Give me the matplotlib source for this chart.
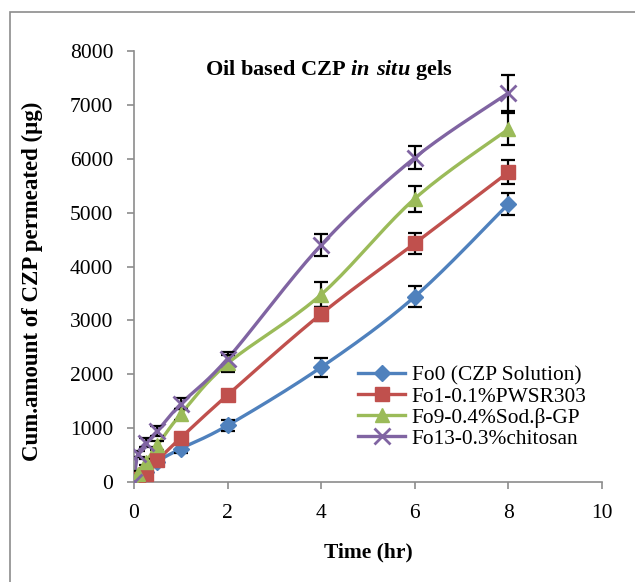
import numpy as np
import matplotlib
matplotlib.use("Agg")
import matplotlib.pyplot as plt
from matplotlib.patches import Rectangle

plt.rcParams['font.family'] = ['Liberation Serif', 'DejaVu Serif']
plt.rcParams['mathtext.fontset'] = 'custom'
plt.rcParams['mathtext.rm'] = 'Liberation Serif:bold'
plt.rcParams['mathtext.bfit'] = 'Liberation Serif:italic:bold'

# data
time = [0, 0.083, 0.25, 0.5, 1, 2, 4, 6, 8]
labels = ["Fo0 (CZP Solution)", "Fo1-0.1%PWSR303", "Fo9-0.4%Sod.β-GP", "Fo13-0.3%chitosan"]
fo0 = [0, 60, 180, 380, 620, 1050, 2130, 3440, 5160]
fo0_err = [0, 30, 50, 60, 80, 110, 180, 190, 200]
fo1 = [0, 60, 150, 400, 820, 1615, 3120, 4430, 5750]
fo1_err = [0, 30, 40, 60, 80, 100, 130, 200, 220]
fo9 = [0, 150, 370, 680, 1260, 2200, 3480, 5260, 6550]
fo9_err = [0, 50, 60, 80, 100, 150, 240, 240, 300]
fo13 = [0, 520, 730, 950, 1450, 2290, 4400, 6020, 7220]
fo13_err = [0, 60, 80, 90, 100, 130, 200, 210, 340]

colors = ['#4F81BD', '#C0504D', '#9BBB59', '#8064A2']
markers = ['D', 's', '^', 'x']
msizes = [8, 10, 10, 11]


def smooth(x, y, n=20):
    # catmull-rom curve through the points, like excel's smoothed line
    x = np.asarray(x, float)
    y = np.asarray(y, float)
    px = np.concatenate([[x[0]], x, [x[-1]]])
    py = np.concatenate([[y[0]], y, [y[-1]]])
    xs, ys = [], []
    for i in range(1, len(px) - 2):
        t = np.linspace(0, 1, n)
        for p, out in ((px, xs), (py, ys)):
            p0, p1, p2, p3 = p[i - 1], p[i], p[i + 1], p[i + 2]
            out.extend(0.5 * (2 * p1 + (-p0 + p2) * t
                              + (2 * p0 - 5 * p1 + 4 * p2 - p3) * t ** 2
                              + (-p0 + 3 * p1 - 3 * p2 + p3) * t ** 3))
    return xs, ys


fig = plt.figure(figsize=(6.35, 5.82), dpi=100)
fig.patches.append(Rectangle((10 / 635, -0.01), 1.0, 1 - 12 / 582 + 0.01,
                             transform=fig.transFigure, fill=False,
                             edgecolor='#8c8c8c', lw=1.2))
ax = fig.add_axes([134 / 635, 1 - 482 / 582, (602 - 134) / 635, (482 - 51) / 582])

series = [(fo0, fo0_err), (fo1, fo1_err), (fo9, fo9_err), (fo13, fo13_err)]
for (vals, errs), c, m, ms, lab in zip(series, colors, markers, msizes, labels):
    sx, sy = smooth(time, vals)
    ax.plot(sx, sy, color=c, lw=2.4, zorder=2)
    ax.errorbar(time, vals, yerr=errs, fmt='none', ecolor='black',
                elinewidth=1.6, capsize=5, capthick=1.6, zorder=3)
    ax.plot(time, vals, linestyle='none', marker=m, ms=ms, color=c,
            mec=c, mew=2 if m == 'x' else 1, zorder=4)
    ax.plot([], [], color=c, lw=2.4, marker=m, ms=ms, mew=2 if m == 'x' else 1,
            label=lab)

ax.set_xlim(0, 10)
ax.set_ylim(0, 8000)
ax.set_xticks(range(0, 11, 2))
ax.set_yticks(range(0, 8001, 1000))
for s in ['top', 'right']:
    ax.spines[s].set_visible(False)
for s in ['left', 'bottom']:
    ax.spines[s].set_color('#8c8c8c')
    ax.spines[s].set_linewidth(1.2)
ax.tick_params(colors='#8c8c8c', labelcolor='black', labelsize=15.5, length=5, width=1.2)
ax.tick_params(axis='x', pad=11)
ax.tick_params(axis='y', pad=10)

ax.set_xlabel("Time (hr)", fontsize=15.5, fontweight='bold', labelpad=14)
ax.set_ylabel("Cum.amount of CZP permeated (µg)", fontsize=16.5, fontweight='bold')
ax.yaxis.set_label_coords(-0.195, 0.465)
ax.text(0.415, 0.955, r"Oil based CZP $\mathbfit{in\ situ}$ gels", transform=ax.transAxes,
        ha='center', va='center', fontsize=16, fontweight='bold')

ax.legend(loc='lower right', bbox_to_anchor=(0.985, 0.057), frameon=False, fontsize=15.4,
          handlelength=2.2, handletextpad=0.3, labelspacing=0.05, borderaxespad=0)

fig.savefig("out.png", dpi=100)
